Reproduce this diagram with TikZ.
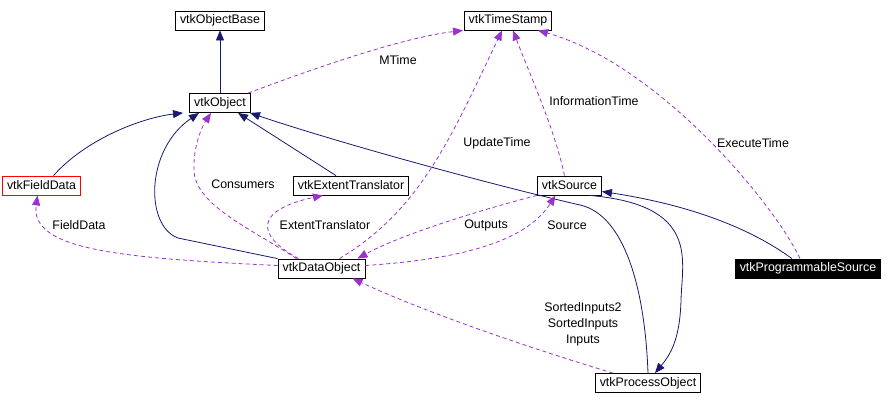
\documentclass[tikz,border=0pt]{standalone}
\usepackage{fontspec}
\setmainfont{Liberation Sans}
\usetikzlibrary{arrows.meta}
\definecolor{inhblue}{HTML}{191970}
\definecolor{collpurple}{HTML}{9A32CD}

\begin{document}
\begin{tikzpicture}[x=1pt,y=-1pt,>={Triangle[length=10pt,width=8pt]},line width=0.8pt,
  every node/.style={font=\fontsize{12.4}{16}\selectfont},
  cls/.style={draw,rectangle,minimum height=19pt,inner xsep=4.5pt,inner ysep=0pt},
  inh/.style={->,draw=inhblue},
  coll/.style={->,draw=collpurple,dash pattern=on 4pt off 3pt},
  lbl/.style={text=black,inner sep=0pt,align=center}]
 \useasboundingbox (0,0) rectangle (892,405);
 %\fill[white] (0,0) rectangle (892,405);

 \node[cls] (obase) at (220,20.5)  {vtkObjectBase};
 \node[cls] (ts)    at (508,20.5)  {vtkTimeStamp};
 \node[cls] (obj)   at (220,103)   {vtkObject};
 \node[cls,draw=red] (fd) at (41.5,185.5) {vtkFieldData};
 \node[cls] (et)    at (351,185.5) {vtkExtentTranslator};
 \node[cls] (src)   at (569.5,185.5) {vtkSource};
 \node[cls] (dobj)  at (321.5,268.5) {vtkDataObject};
 \node[cls,fill=black,text=white] (psrc) at (808,268.5) {vtkProgrammableSource};
 \node[cls] (pobj)  at (648,383)   {vtkProcessObject};

 % inheritance
 \draw[inh] (obj) -- (obase);
 \draw[inh] ([xshift=12pt]fd.north) .. controls (85,140) and (140,118) .. ([xshift=-37pt]obj.south);
 \draw[inh] ([xshift=-44pt]dobj.north) -- (178,238)
            .. controls (145,226) and (145,150) .. ([xshift=-21pt]obj.south);
 \draw[inh] ([xshift=-15pt]et.north) -- ([xshift=18pt]obj.south);
 \draw[inh] (pobj.north) .. controls (645,290) and (625,215) .. (580,205)
            .. controls (480,182) and (330,140) .. ([xshift=30pt]obj.south);
 \draw[inh] ([xshift=-16pt]psrc.north) .. controls (750,228) and (690,205) .. ([yshift=-6pt]src.east);
 \draw[inh] ([xshift=20pt]src.south) .. controls (700,205) and (682,260) .. (681,300)
            .. controls (680,340) and (670,355) .. ([xshift=7pt]pobj.north);

 % members
 \draw[coll] ([xshift=28pt]obj.north) .. controls (310,70) and (400,38) .. ([xshift=-45pt]ts.south)
            node[lbl] at (398,60) {MTime};
 \draw[coll] ([xshift=18pt]dobj.north) .. controls (420,210) and (450,140) .. ([xshift=-6pt]ts.south)
            node[lbl] at (497,143) {UpdateTime};
 \draw[coll] ([xshift=-5pt]src.north) .. controls (555,130) and (530,75) .. ([xshift=5pt]ts.south)
            node[lbl] at (594,101) {InformationTime};
 \draw[coll] ([xshift=-8pt]psrc.north) .. controls (775,205) and (660,65) .. ([xshift=30pt]ts.south)
            node[lbl] at (753,143) {ExecuteTime};
 \draw[coll] ([yshift=3pt]dobj.west) .. controls (120,258) and (30,250) .. ([xshift=-4pt]fd.south)
            node[lbl] at (79,225) {FieldData};
 \draw[coll] ([xshift=-25pt]dobj.north) .. controls (250,228) and (195,205) .. (194,170)
            .. controls (193,145) and (203,125) .. ([xshift=-9pt]obj.south)
            node[lbl] at (243,184) {Consumers};
 \draw[coll] ([xshift=-23pt]dobj.north) .. controls (255,235) and (255,210) .. ([xshift=-28pt]et.south)
            node[lbl] at (325,225) {ExtentTranslator};
 \draw[coll] (src.south west) .. controls (480,210) and (400,235) .. ([xshift=36pt]dobj.north)
            node[lbl] at (486,225) {Outputs};
 \draw[coll] ([yshift=3pt]dobj.east) .. controls (480,258) and (530,235) .. ([xshift=-14pt]src.south)
            node[lbl] at (567,225) {Source};
 \draw[coll] ([xshift=-35pt]pobj.north) .. controls (520,345) and (420,310) .. ([xshift=31pt]dobj.south)
            node[lbl] at (583,324) {SortedInputs2\\SortedInputs\\Inputs};
\end{tikzpicture}
\end{document}
